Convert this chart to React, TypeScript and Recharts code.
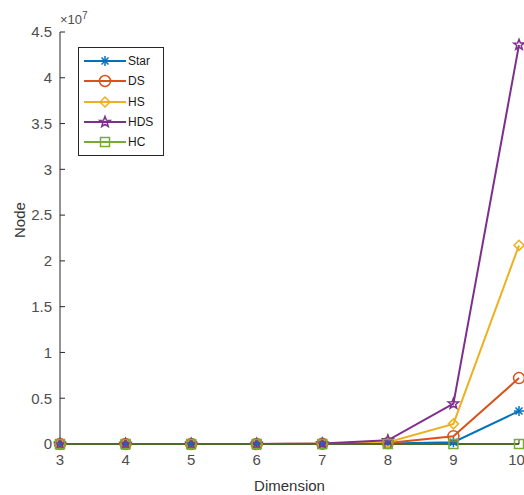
import React from 'react';
import { LineChart, Line, XAxis, YAxis, Legend } from 'recharts';

const dimensions = [3, 4, 5, 6, 7, 8, 9, 10];
const starNodes = [0, 0, 0, 0, 10000, 60000, 200000, 3600000];
const dsNodes = [0, 0, 0, 0, 20000, 120000, 850000, 7200000];
const hsNodes = [0, 0, 0, 0, 30000, 200000, 2200000, 21700000];
const hdsNodes = [0, 0, 0, 0, 50000, 400000, 4400000, 43600000];
const hcNodes = [0, 0, 0, 0, 0, 0, 0, 0];
const yTicks = [0, 5e6, 1e7, 1.5e7, 2e7, 2.5e7, 3e7, 3.5e7, 4e7, 4.5e7];

const FONT = '"Liberation Sans", Arial, sans-serif';
const AXIS = '#262626';
const TICK_TEXT = '#4d4d4d';

type MarkerKind = 'asterisk' | 'circle' | 'diamond' | 'pentagram' | 'square';

const series: { key: string; name: string; color: string; marker: MarkerKind }[] = [
  { key: 'star', name: 'Star', color: '#0072BD', marker: 'asterisk' },
  { key: 'ds', name: 'DS', color: '#D95319', marker: 'circle' },
  { key: 'hs', name: 'HS', color: '#EDB120', marker: 'diamond' },
  { key: 'hds', name: 'HDS', color: '#7E2F8E', marker: 'pentagram' },
  { key: 'hc', name: 'HC', color: '#77AC30', marker: 'square' },
];

const chartData = dimensions.map((d, i) => ({
  dim: d,
  star: starNodes[i],
  ds: dsNodes[i],
  hs: hsNodes[i],
  hds: hdsNodes[i],
  hc: hcNodes[i],
}));

function Marker({ kind, cx, cy, color }: { kind: MarkerKind; cx: number; cy: number; color: string }) {
  const s = 5;
  const common = { stroke: color, strokeWidth: 1.5, fill: 'none' };
  if (kind === 'asterisk') {
    const d = s * 0.7;
    return (
      <g {...common}>
        <line x1={cx - s} y1={cy} x2={cx + s} y2={cy} />
        <line x1={cx} y1={cy - s} x2={cx} y2={cy + s} />
        <line x1={cx - d} y1={cy - d} x2={cx + d} y2={cy + d} />
        <line x1={cx - d} y1={cy + d} x2={cx + d} y2={cy - d} />
      </g>
    );
  }
  if (kind === 'circle') return <circle cx={cx} cy={cy} r={s + 0.5} {...common} />;
  if (kind === 'diamond') {
    return <polygon points={`${cx},${cy - s} ${cx + s},${cy} ${cx},${cy + s} ${cx - s},${cy}`} {...common} />;
  }
  if (kind === 'square') {
    return <rect x={cx - s + 0.5} y={cy - s + 0.5} width={2 * s - 1} height={2 * s - 1} {...common} />;
  }
  const pts: string[] = [];
  for (let i = 0; i < 10; i++) {
    const r = i % 2 === 0 ? s + 0.5 : (s + 0.5) * 0.42;
    const a = -Math.PI / 2 + (i * Math.PI) / 5;
    pts.push(`${cx + r * Math.cos(a)},${cy + r * Math.sin(a)}`);
  }
  return <polygon points={pts.join(' ')} {...common} />;
}

function LegendBox() {
  return (
    <div
      style={{
        border: '1px solid #262626',
        background: '#fff',
        width: 84,
        padding: '3px 0',
        fontFamily: FONT,
        fontSize: 12,
        color: '#1a1a1a',
      }}
    >
      {series.map((s) => (
        <div key={s.key} style={{ display: 'flex', alignItems: 'center', height: 20.3 }}>
          <svg width={46} height={16} style={{ marginLeft: 4 }}>
            <line x1={1} y1={8} x2={43} y2={8} stroke={s.color} strokeWidth={2} />
            <Marker kind={s.marker} cx={22} cy={8} color={s.color} />
          </svg>
          <span style={{ marginLeft: -1 }}>{s.name}</span>
        </div>
      ))}
    </div>
  );
}

export default function App() {
  return (
    <div style={{ position: 'absolute', left: 0, top: 0, width: 524, height: 495, background: '#fff' }}>
      <LineChart
        width={524}
        height={495}
        data={chartData}
        margin={{ top: 32, right: 5, left: 0, bottom: 0 }}
        style={{ fontFamily: FONT }}
      >
        <XAxis
          xAxisId="bottom"
          dataKey="dim"
          type="number"
          domain={[3, 10]}
          ticks={dimensions}
          height={51}
          stroke={AXIS}
          tickSize={-5}
          tickMargin={15}
          tick={{ fontSize: 15, fill: TICK_TEXT }}
          label={{ value: 'Dimension', position: 'insideBottom', offset: 4, fontSize: 15, fill: '#333' }}
        />
        <XAxis
          xAxisId="top"
          orientation="top"
          dataKey="dim"
          type="number"
          domain={[3, 10]}
          ticks={dimensions}
          height={0}
          stroke={AXIS}
          tickSize={-5}
          tick={false}
        />
        <YAxis
          yAxisId="left"
          type="number"
          domain={[0, 4.5e7]}
          ticks={yTicks}
          width={60}
          stroke={AXIS}
          tickSize={-5}
          tickMargin={13}
          tick={{ fontSize: 15, fill: TICK_TEXT }}
          tickFormatter={(v: number) => String(v / 1e7)}
          label={{ value: 'Node', angle: -90, position: 'insideLeft', offset: 20, fontSize: 15, fill: '#333' }}
        />
        <YAxis
          yAxisId="right"
          orientation="right"
          type="number"
          domain={[0, 4.5e7]}
          ticks={yTicks}
          width={0}
          stroke={AXIS}
          tickSize={-5}
          tick={false}
        />
        <Legend
          layout="vertical"
          align="center"
          verticalAlign="middle"
          wrapperStyle={{ left: 78, top: 47, width: 86 }}
          content={() => <LegendBox />}
        />
        {series.map((s) => (
          <Line
            key={s.key}
            xAxisId="bottom"
            yAxisId="left"
            dataKey={s.key}
            name={s.name}
            type="linear"
            stroke={s.color}
            strokeWidth={2}
            isAnimationActive={false}
            activeDot={false}
            dot={(p: any) => (
              <Marker key={`${s.key}-${p.index}`} kind={s.marker} cx={p.cx} cy={p.cy} color={s.color} />
            )}
          />
        ))}
      </LineChart>
      <div
        style={{
          position: 'absolute',
          left: 60,
          top: 10,
          fontFamily: FONT,
          fontSize: 13,
          color: TICK_TEXT,
        }}
      >
        ×10<sup style={{ fontSize: 10 }}>7</sup>
      </div>
    </div>
  );
}
